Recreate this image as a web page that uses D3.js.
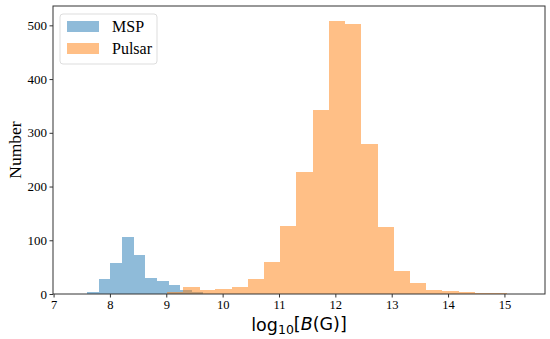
<!DOCTYPE html>
<html>
<head>
<meta charset="utf-8">
<script src="https://cdn.jsdelivr.net/npm/d3@7"></script>
<style>
  body { margin: 0; background: #fff; }
  .axis text { font-family: 'Liberation Serif', 'Times New Roman', serif; fill: #000; }
  .axis path, .axis line { stroke: #333; }
</style>
</head>
<body>
<div class="hist-container"></div>
<script>
// Histogram data (bin edges + counts)
const mspEdges = [7.59, 7.80, 8.01, 8.21, 8.42, 8.63, 8.83, 9.04, 9.25, 9.45, 9.66];
const mspCounts = [4, 27, 57, 107, 72, 30, 24, 16, 8, 3];

const pulsarEdges = [9.01, 9.30, 9.59, 9.87, 10.16, 10.45, 10.74, 11.02, 11.31, 11.60, 11.89,
                     12.17, 12.46, 12.75, 13.04, 13.32, 13.61, 13.90, 14.19, 14.47, 14.76, 15.05];
const pulsarCounts = [4, 13, 8, 9, 13, 28, 59, 127, 227, 343, 509, 502, 280, 124, 43, 20, 7, 6, 3, 2, 1];

const xTicks = [7, 8, 9, 10, 11, 12, 13, 14, 15];
const yTicks = [0, 100, 200, 300, 400, 500];

const seriesNames = ['MSP', 'Pulsar'];
const seriesColors = ['#1f77b4', '#ff7f0e'];

// edges + counts -> bins
function toBins(edges, counts) {
    return counts.map((c, i) => ({ x0: edges[i], x1: edges[i + 1], count: c }));
}

function setupCanvas() {
    const svg_width = 550;
    const svg_height = 339;
    const plot = { left: 53, right: 545, top: 6, bottom: 294 };

    const svg = d3.select('.hist-container').append('svg')
        .attr('width', svg_width).attr('height', svg_height);

    const xScale = d3.scaleLinear().domain([6.99, 15.72]).range([plot.left, plot.right]);
    const yScale = d3.scaleLinear().domain([0, 536]).range([plot.bottom, plot.top]);

    // bars, MSP first then Pulsar on top (alpha 0.5 each)
    const series = [toBins(mspEdges, mspCounts), toBins(pulsarEdges, pulsarCounts)];
    series.forEach((bins, k) => {
        svg.append('g').selectAll('rect').data(bins).enter()
            .append('rect')
            .attr('x', d => xScale(d.x0))
            .attr('y', d => yScale(d.count))
            .attr('width', d => xScale(d.x1) - xScale(d.x0))
            .attr('height', d => yScale(0) - yScale(d.count))
            .attr('shape-rendering', 'crispEdges') // 避免相鄰長條間出現白縫
            .style('fill', seriesColors[k])
            .style('fill-opacity', 0.5);
    });

    // axes
    const xAxis = d3.axisBottom(xScale).tickValues(xTicks).tickFormat(d3.format('d'))
        .tickSizeInner(3.5).tickSizeOuter(0).tickPadding(3);
    const xAxisDraw = svg.append('g').attr('class', 'x axis')
        .attr('transform', `translate(0,${plot.bottom})`).call(xAxis);
    xAxisDraw.selectAll('text').style('font-size', '12.5px');
    xAxisDraw.select('.domain').remove();

    const yAxis = d3.axisLeft(yScale).tickValues(yTicks).tickFormat(d3.format('d'))
        .tickSizeInner(3.5).tickSizeOuter(0).tickPadding(2.5);
    const yAxisDraw = svg.append('g').attr('class', 'y axis')
        .attr('transform', `translate(${plot.left},0)`).call(yAxis);
    yAxisDraw.selectAll('text').style('font-size', '13px');
    yAxisDraw.select('.domain').remove();

    // frame (spines)
    svg.append('rect')
        .attr('x', plot.left).attr('y', plot.top)
        .attr('width', plot.right - plot.left).attr('height', plot.bottom - plot.top)
        .style('fill', 'none').style('stroke', '#333').style('stroke-width', 1);

    // axis labels
    svg.append('text')
        .attr('transform', `translate(15,${(plot.top + plot.bottom) / 2}) rotate(-90)`)
        .attr('text-anchor', 'middle').attr('dy', '0.35em')
        .style('font-family', "'Liberation Serif', serif").style('font-size', '17.5px')
        .text('Number');

    const xlabel = svg.append('text')
        .attr('x', (plot.left + plot.right) / 2).attr('y', 331)
        .attr('text-anchor', 'middle')
        .style('font-family', "'DejaVu Sans', sans-serif").style('font-size', '17.5px');
    xlabel.append('tspan').text('log');
    xlabel.append('tspan').text('10').attr('dy', '0.25em').style('font-size', '12.5px');
    xlabel.append('tspan').text('[').attr('dy', '-0.25em');
    xlabel.append('tspan').text('B').style('font-style', 'italic');
    xlabel.append('tspan').text('(G)]');

    // legend
    const legend = svg.append('g').attr('class', 'legend');
    legend.append('rect')
        .attr('x', 60).attr('y', 14).attr('width', 97).attr('height', 50)
        .attr('rx', 3)
        .style('fill', '#fff').style('fill-opacity', 0.8)
        .style('stroke', '#ddd').style('stroke-width', 1);
    seriesNames.forEach((name, k) => {
        const y0 = 21 + k * 22;
        legend.append('rect')
            .attr('x', 67).attr('y', y0).attr('width', 32).attr('height', 11)
            .style('fill', seriesColors[k]).style('fill-opacity', 0.5);
        legend.append('text')
            .attr('x', 112).attr('y', y0 + 11)
            .style('font-family', "'Liberation Serif', serif").style('font-size', '16px')
            .text(name);
    });
}

setupCanvas();
</script>
</body>
</html>
